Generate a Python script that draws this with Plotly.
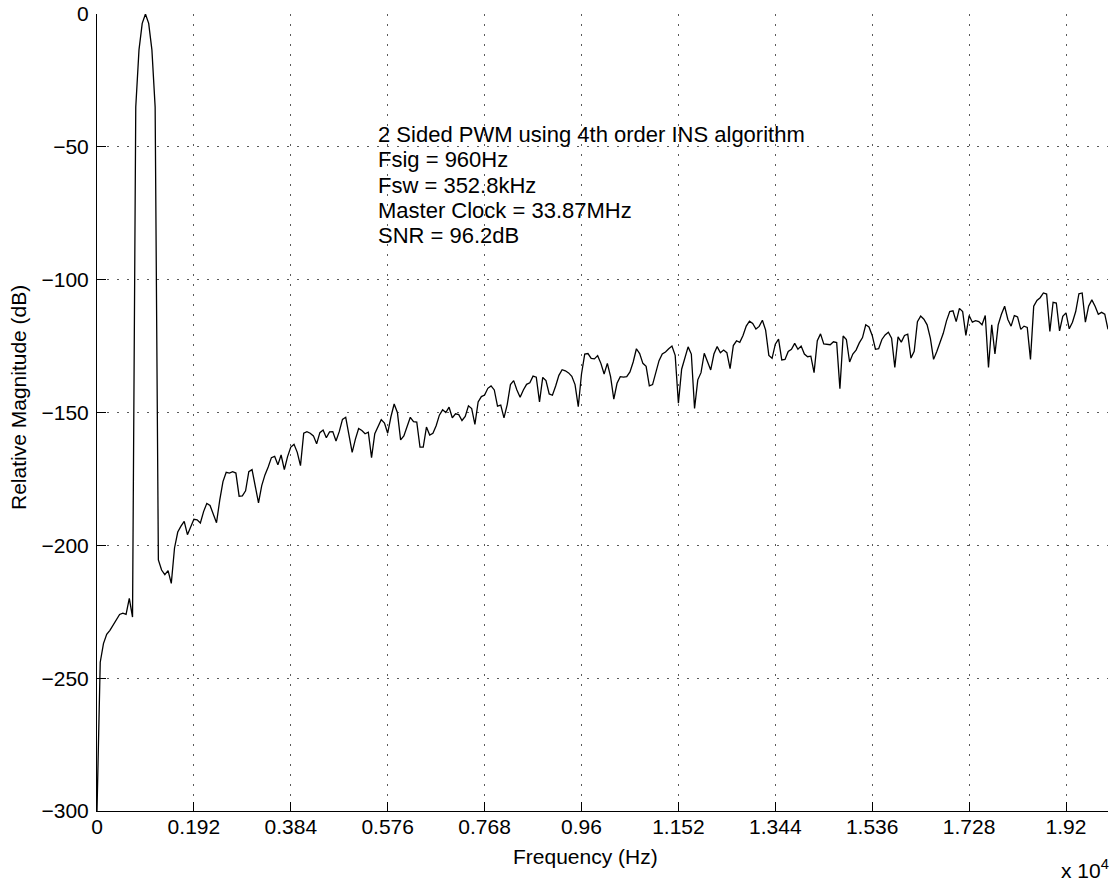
import numpy as np
import plotly.graph_objects as go

# FFT bin spacing (Hz) and magnitudes (dB)
bin_hz = 64
mag_low = [-300, -244, -237, -233.5, -232, -230, -228.5, -226, -225.5, -226, -220, -227]
mag_tone = [-35, -13.5, -3.5, 0, -3.5, -13.5, -35]
mag_noise = [
    -205.5, -209.3, -211, -209.5, -214.3, -201, -195, -192.8, -191, -196, -193, -190.2, -190.4, -191.6, -187.3, -184.2, -185,
    -188, -191.5, -183, -176, -172.5, -172.8, -172.3, -172.8, -181.5, -181.4, -179.5, -172.3, -171.5, -177.5, -184, -177.5, -173.5, -170.5, -167,
    -166.5, -169.7, -166, -171.5, -166.6, -163, -162, -165, -170, -157.8, -157.2, -157.8, -158.8, -161.8, -157.6, -156.6, -159.5, -157.3, -157.2, -160.7, -157.2,
    -152.6, -151.8, -158, -165, -160, -156, -156.8, -158, -157.4, -167, -158, -155, -152.7, -154, -157.8, -151.6, -146.8, -150, -160.3, -158.8, -155, -151.8, -153.4, -153.6,
    -163, -163, -155.5, -158.5, -157.8, -155, -151, -149, -150, -148, -152, -150.5, -150.8, -153, -151.5, -147.5, -148.5, -154.5, -146, -144, -143.4, -140.9, -140, -141.5, -147.6, -147.2,
    -152, -147, -139.5, -138, -141.5, -144.3, -141.5, -139.4, -138.8, -136.3, -136.7, -146, -136.8, -138, -143, -143.5, -140, -136, -133.9, -134.3, -135.1, -136.4, -139.5, -147.8, -135.5,
    -128, -127.8, -129.6, -129.8, -128.6, -131.5, -135.5, -131.5, -136.5, -145, -139, -136.5, -136.7, -136.5, -134.7, -131, -126, -127.8, -131.5, -132.6, -140, -139.5, -135, -130.5, -128,
    -127.2, -126, -125, -128.5, -146.5, -133.7, -129, -125.3, -128, -148.5, -137.7, -135, -127.7, -131, -134, -128, -125.2, -127.5, -126.5, -127.5, -133.5, -124.8, -123, -123.6, -121,
    -117.5, -115.6, -116.5, -118.6, -117.6, -115.3, -119, -128.5, -129.6, -124.3, -122.4, -130.2, -130, -127, -126.2, -124, -126.2, -125, -128, -129, -128.8, -135, -123, -120.4, -124.2,
    -124.3, -124.5, -123.4, -123.7, -141, -121.2, -122.5, -131, -128, -126.5, -123.8, -121.8, -117, -117.8, -121, -126.2, -126, -122.5, -120.8, -119.8, -122, -133, -121.5, -123.5, -121,
    -120.5, -129.5, -127, -115.8, -113.7, -114.9, -117, -122, -130, -127, -123.7, -120.2, -115.5, -112, -111.7, -115.8, -110.8, -112, -121, -113.5, -116, -115.4, -115.8, -117, -113.5,
    -133, -117, -128, -117, -113, -110, -115, -117.5, -113.5, -114, -118.7, -117.5, -118, -130, -110, -107.8, -106.8, -105, -105.4, -119.5, -108.5, -108.8, -119.3, -113.8, -112.5,
    -118.5, -116, -112, -105.3, -105, -116, -110, -107.6, -110, -113, -112.3, -113, -118.7,
]

xtick_vals = [0, 0.192, 0.384, 0.576, 0.768, 0.96, 1.152, 1.344, 1.536, 1.728, 1.92]
xtick_text = ["0", "0.192", "0.384", "0.576", "0.768", "0.96", "1.152", "1.344", "1.536", "1.728", "1.92"]
ytick_vals = [0, -50, -100, -150, -200, -250, -300]

info_lines = [
    "2 Sided PWM using 4th order INS algorithm",
    "Fsig = 960Hz",
    "Fsw = 352.8kHz",
    "Master Clock = 33.87MHz",
    "SNR = 96.2dB",
]

mag = mag_low + mag_tone + mag_noise
freq = np.arange(len(mag)) * bin_hz / 1e4  # in units of 10^4 Hz

FONT = "Liberation Sans, Arial, Helvetica, sans-serif"
TICK_SIZE = 21
TEXT_SIZE = 22

fig = go.Figure()
fig.add_trace(go.Scatter(x=freq, y=mag, mode="lines",
                         line=dict(color="black", width=1.3), hoverinfo="skip"))

W, H = 1115, 884
L, R, T, B = 97, 7, 14, 73
pw = W - L - R
ph = H - T - B

def px_x(p):
    return (p - L) / pw

def px_y(p):
    return 1 - (p - T) / ph

axis_common = dict(
    showline=True, linecolor="black", linewidth=1,
    ticks="inside", ticklen=9, tickcolor="black", tickwidth=1,
    showgrid=True, gridcolor="#5a5a5a", gridwidth=1, griddash="2px,8px",
    zeroline=False, mirror=False,
    tickfont=dict(family=FONT, size=TICK_SIZE, color="black"),
)

annotations = [
    dict(text="Frequency (Hz)", xref="paper", yref="paper",
         x=px_x(585), y=px_y(857), xanchor="center", yanchor="middle",
         showarrow=False, font=dict(family=FONT, size=TICK_SIZE, color="black")),
    dict(text="Relative Magnitude (dB)", xref="paper", yref="paper",
         x=px_x(18), y=px_y(398), xanchor="center", yanchor="middle", textangle=-90,
         showarrow=False, font=dict(family=FONT, size=TICK_SIZE, color="black")),
    dict(text="x 10<sup>4</sup>", xref="paper", yref="paper",
         x=px_x(1111), y=px_y(869), xanchor="right", yanchor="middle",
         showarrow=False, font=dict(family=FONT, size=TICK_SIZE, color="black")),
]
line_gap = 25.3
for i, line in enumerate(info_lines):
    annotations.append(dict(text=line, xref="paper", yref="paper",
                            x=px_x(376), y=px_y(134.5 + i * line_gap),
                            xanchor="left", yanchor="middle", align="left",
                            showarrow=False, font=dict(family=FONT, size=TEXT_SIZE, color="black")))

fig.update_layout(
    width=W, height=H,
    margin=dict(l=L, r=R, t=T, b=B, autoexpand=False),
    paper_bgcolor="white", plot_bgcolor="white",
    showlegend=False,
    xaxis=dict(range=[0, (len(mag) - 1) * bin_hz / 1e4], tickvals=xtick_vals, ticktext=xtick_text,
               ticklabelstandoff=-3, **axis_common),
    yaxis=dict(range=[-300, 0], tickvals=ytick_vals, ticklabelstandoff=3, **axis_common),
    annotations=annotations,
)

fig.write_html("out.html", config={"displayModeBar": False},
               post_script="document.body.style.margin='0';document.body.style.overflow='hidden';")
